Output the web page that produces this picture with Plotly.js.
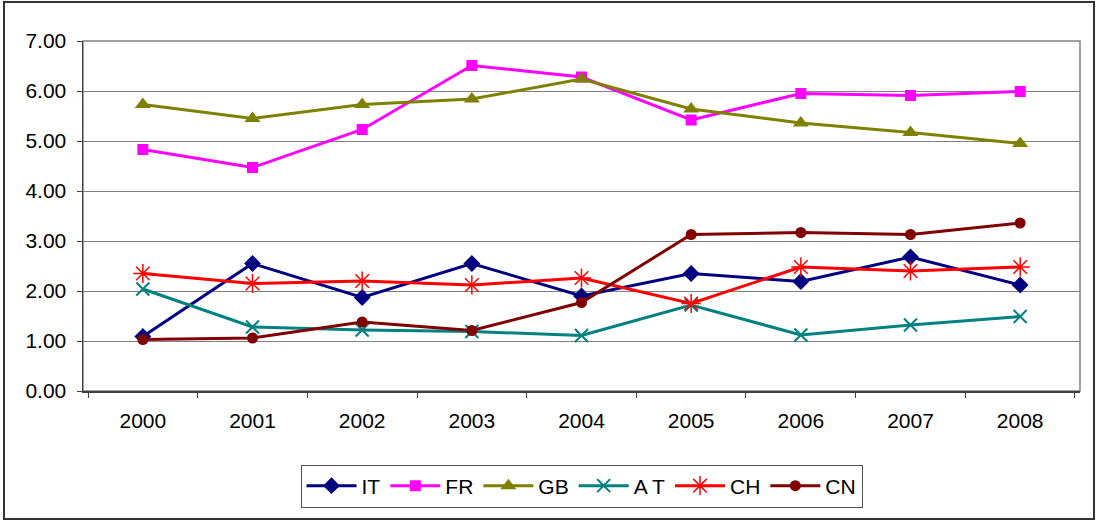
<!DOCTYPE html>
<html>
<head>
<meta charset="utf-8">
<script src="https://cdn.plot.ly/plotly-3.0.1.min.js"></script>
<style>
  html, body { margin: 0; padding: 0; background: #fff; }
  #chart { position: absolute; left: 0; top: 0; width: 1097px; height: 520px; }
  #frame { position: absolute; left: 3px; top: 1px; width: 1088px; height: 515px; border: 2px solid #333; pointer-events: none; }
</style>
</head>
<body>
<div id="chart"></div>
<div id="frame"></div>
<script>
const years = ['2000','2001','2002','2003','2004','2005','2006','2007','2008'];
const IT = [1.09, 2.55, 1.87, 2.55, 1.90, 2.35, 2.19, 2.68, 2.12];
const FR = [4.83, 4.47, 5.23, 6.51, 6.28, 5.42, 5.95, 5.91, 5.99];
const GB = [5.73, 5.45, 5.73, 5.84, 6.24, 5.64, 5.36, 5.17, 4.95];
const AT = [2.04, 1.28, 1.22, 1.19, 1.11, 1.72, 1.12, 1.32, 1.49];
const CH = [2.35, 2.15, 2.20, 2.12, 2.26, 1.75, 2.48, 2.40, 2.48];
const CN = [1.03, 1.06, 1.38, 1.21, 1.77, 3.13, 3.17, 3.13, 3.36];
const yTicks = [0, 1, 2, 3, 4, 5, 6, 7];

function tr(name, y, color, symbol, size, mlw) {
  return {
    type: 'scatter', mode: 'lines+markers', name: name, x: years, y: y,
    line: { color: color, width: 3 },
    marker: { symbol: symbol, size: size, color: color, line: { color: color, width: mlw } }
  };
}

const data = [
  tr('IT', IT, '#000080', 'diamond', 13, 0),
  tr('FR', FR, '#FF00FF', 'square', 11, 0),
  tr('GB', GB, '#808000', 'triangle-up', 14, 0),
  tr('A T', AT, '#008080', 'x-thin-open', 13, 2),
  tr('CH', CH, '#FF0000', 'asterisk-open', 16, 1.5),
  tr('CN', CN, '#800000', 'circle', 11, 0)
];

const layout = {
  width: 1097, height: 520,
  margin: { l: 83, r: 17, t: 41, b: 127 },
  paper_bgcolor: '#fff', plot_bgcolor: '#fff',
  font: { family: 'Liberation Sans, Arial, sans-serif', size: 21, color: '#000' },
  showlegend: true,
  legend: {
    orientation: 'h', x: 0.5, xanchor: 'center', y: -0.21, yanchor: 'top',
    bordercolor: '#555', borderwidth: 1, font: { size: 21 }, itemwidth: 50
  },
  xaxis: {
    type: 'category', tickson: 'boundaries', ticks: 'outside', ticklen: 5,
    tickcolor: '#404040', showline: true, linecolor: '#404040', linewidth: 1.5,
    showgrid: false, zeroline: false, tickfont: { size: 21 }, ticklabelstandoff: 10
  },
  yaxis: {
    range: [0, 7], tickvals: yTicks, tickformat: '.2f', ticks: 'outside', ticklen: 5,
    tickcolor: '#404040', showline: true, linecolor: '#404040', linewidth: 1.5,
    showgrid: true, gridcolor: '#808080', gridwidth: 1, zeroline: false,
    tickfont: { size: 21 }, ticklabelstandoff: 6
  },
  shapes: [{
    type: 'rect', xref: 'paper', yref: 'paper', x0: 0, x1: 1, y0: 0, y1: 1,
    line: { color: '#808080', width: 1.5 }, layer: 'below'
  }]
};

Plotly.newPlot('chart', data, layout, { displayModeBar: false, staticPlot: true });
</script>
</body>
</html>
